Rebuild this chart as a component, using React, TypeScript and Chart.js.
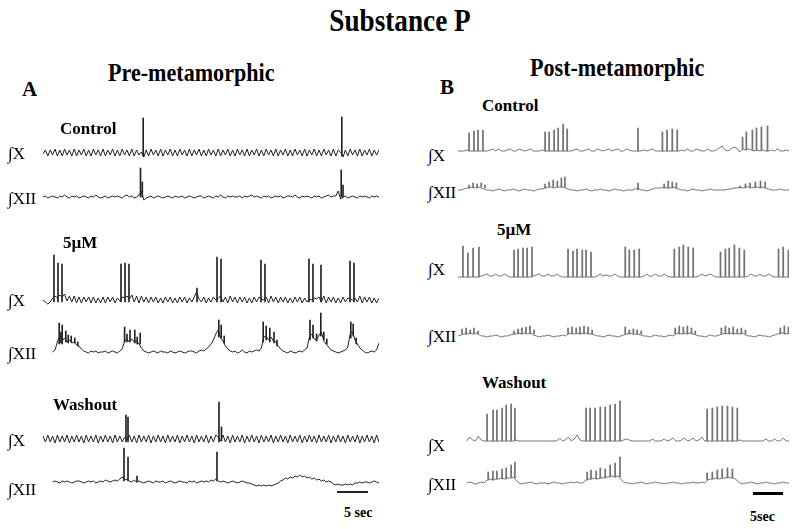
import React, { useEffect, useRef } from "react";
import { Chart, registerables } from "chart.js";

Chart.register(...registerables);

// ---------- DATA (time in seconds, amplitude in arbitrary units above baseline) ----------
const LEFT_STEP = 0.4; // s between baseline samples, panel A
const RIGHT_STEP = 0.5; // s between baseline samples, panel B
const LEFT_DURATION = 56;
const RIGHT_DURATION = 57;

// Panel A (pre-metamorphic)
const preControlX: (number | null)[] = [
  -1, 3, -3, 3, -2, 4, -3, 3, -3, 4,
  -2, 3, -3, 4, -3, 3, -2, 4, -3, 3,
  -3, 4, -2, 3, -3, 4, -3, 3, -2, 4,
  -3, 3, -3, 4, -2, 3, -3, 4, -3, 3,
  -2, 1, -4, 3, -3, 4, -2, 3, -3, 4,
  -3, 3, -2, 4, -3, 3, -3, 4, -2, 3,
  -3, 4, -3, 3, -2, 4, -3, 3, -3, 4,
  -2, 3, -3, 4, -3, 3, -2, 4, -3, 3,
  -3, 4, -2, 3, -3, 4, -3, 3, -2, 4,
  -3, 3, -3, 4, -2, 3, -3, 4, -3, 3,
  -2, 4, -3, 3, -3, 4, -2, 3, -3, 4,
  -3, 3, -2, 4, -3, 3, -3, 4, -2, 3,
  -3, 4, -3, 3, 1, -4, 3, -3, 4, -2,
  3, -3, 4, -3, 3, -2, 4, -3, 3, -2,
  3,
];
const preControlXSpikes = [[16.7, -3, 35], [49.8, -3, 36]];

const preControlXII: (number | null)[] = [
  0, 1, -1, 0, 1, 0, -1, 1, 0, 2,
  0, -1, 1, 0, 1, -1, 0, 1, 0, -1,
  1, 0, 2, 0, -1, 0, 1, -1, 0, 1,
  0, 1, 0, -1, 1, 2, 0, 1, -1, 0,
  2, 6, -3, -1, 0, 1, -1, 0, 1, 0,
  -1, 0, 1, 0, -1, 1, 0, 0, 1, -1,
  0, 1, 0, -1, 0, 1, 1, -1, 0, 1,
  0, -1, 1, 0, 2, 0, -1, 1, 0, 1,
  0, 0, 1, -1, 1, 0, 1, 2, 0, 1,
  0, -1, 1, 0, 1, -1, 0, 1, 0, 1,
  -1, 0, 1, 1, 0, 2, 0, -1, 1, 0,
  1, 0, -1, 1, 0, 1, -1, 0, 1, 2,
  0, 1, 1, 6, -2, 0, 1, -1, 0, 1,
  0, -1, 1, 0, 1, 0, -1, 1, 0, 1,
  0,
];
const preControlXIISpikes = [[16.25, 0, 29], [16.55, 0, 15], [49.7, 0, 27], [50.0, 0, 12]];

const pre5uMX: (number | null)[] = [
  0, -2, -4, -2, 2, 4, 2, 5, 3, 6,
  -1, 4, -2, 4, -3, 3, -3, 3, -2, 3,
  -3, 3, -3, 2, -3, 3, -3, 3, -2, 3,
  -3, 2, -1, 3, 2, 4, 1, 5, -2, 4,
  -3, 4, -2, 3, -3, 3, -2, 3, -3, 2,
  -3, 3, -2, 3, -3, 2, -3, 3, -2, 3,
  -3, 2, -2, 3, 8, 1, -2, 3, -3, 2,
  -2, 3, 0, 2, 4, -2, 3, -3, 4, -2,
  3, -3, 3, -2, 3, -3, 2, -3, 3, -2,
  3, 1, 0, 3, -3, 4, -2, 3, -3, 3,
  -2, 3, -3, 2, -3, 3, -2, 3, -3, 2,
  -2, 1, 0, 2, 1, 3, -2, 4, -3, 3,
  -2, 3, -3, 2, -3, 3, -2, 2, 1, 0,
  2, -2, 4, -3, 3, -2, 3, -3, 2, -3,
  2,
];
const pre5uMXSpikes = [
  [1.83, -2, 45], [2.5, -2, 37], [3.17, -2, 36],
  [13.0, -2, 36], [13.67, -2, 37], [14.33, -2, 36],
  [25.67, -2, 12],
  [29.0, -2, 43], [29.67, -2, 41],
  [36.33, -2, 40], [37.0, -2, 36],
  [44.33, -2, 41], [45.0, -2, 36], [46.33, -2, 35],
  [51.17, -2, 39], [51.83, -2, 37],
];

const pre5uMXII: (number | null)[] = [
  null, null, null, null,
  0, 2, 10, 16, 11, 14, 10, 12, 9, 10, 7, 6, 3, 1,
  0, -1, 1, 0, 1, -1, 0, 0, 1, -1, 0, 1, 0, -1, 1,
  3, 11, 13, 10, 13, 10, 11, 8, 4, 1,
  0, -1, 0, 1, 0, -1, 1, 0, 0, -1, 1, 0, -1, 0, 1, 0, -1, 0, 1, 1, 0, -1, 1, 2, 1,
  3, 5, 8, 12, 18, 22, 14, 11, 6, 3, 1,
  0, 1, -1, 0, 2, 0, -1, 1, 0, 1, 2, 1,
  4, 15, 16, 12, 15, 11, 10, 6, 3, 1,
  0, -1, 1, 0, -1, 0, 1, 0, 2,
  4, 15, 18, 13, 12, 17, 20, 11, 8, 5, 2, 1,
  0, -1, 0, 1, 2,
  5, 18, 20, 12, 8, 4, 2,
  0, -1, 0, 1, 0,
  2, 9,
];
const pre5uMXIISpikes = [
  [2.7, 8, 29], [3.0, 9, 20], [3.2, 8, 27], [3.8, 10, 21], [4.2, 9, 17], [4.7, 10, 16], [5.3, 9, 14], [5.8, 6, 10],
  [13.6, 10, 25], [14.0, 10, 18], [14.5, 10, 22], [15.3, 9, 22], [15.7, 8, 15], [16.2, 8, 19],
  [29.3, 15, 32], [29.7, 14, 27], [30.2, 9, 16],
  [36.7, 10, 30], [37.2, 12, 26], [37.8, 10, 24], [38.5, 9, 20], [39.0, 6, 12],
  [44.5, 12, 32], [45.0, 14, 27], [45.6, 11, 18], [46.3, 16, 39], [46.8, 12, 20], [47.3, 8, 13],
  [51.3, 14, 30], [51.7, 16, 28], [52.2, 8, 14],
];

const preWashX: (number | null)[] = [
  3, -3, 4, -3, 3, -4, 4, -3, 3, -3,
  4, -4, 3, -3, 4, -3, 3, -4, 4, -3,
  3, -3, 4, -4, 3, -3, 4, -3, 3, -4,
  4, -3, 3, -3, 2, -1, 4, -3, 3, -4,
  4, -3, 3, -3, 4, -4, 3, -3, 4, -3,
  3, -4, 4, -3, 3, -3, 4, -4, 3, -3,
  4, -3, 3, -4, 4, -3, 3, -3, 4, -4,
  3, -3, 4, 2, -2, 4, -3, 3, -4, 4,
  -3, 3, -3, 4, -4, 3, -3, 4, -3, 3,
  -4, 4, -3, 3, -3, 4, -4, 3, -3, 4,
  -3, 3, -4, 4, -3, 3, -3, 4, -4, 3,
  -3, 4, -3, 3, -4, 4, -3, 3, -3, 4,
  -4, 3, -3, 4, -3, 3, -4, 4, -3, 3,
  -3, 4, -4, 3, -3, 4, -3, 3, -4, 4,
  -3,
];
const preWashXSpikes = [[13.83, -3, 24], [14.17, -3, 22], [29.33, -3, 37], [29.75, -2, 12]];

const preWashXII: (number | null)[] = [
  null, null, null, null,
  0, 1, 0, -1, 1, 0, 1, 0, -1, 0, 1, 1, 0, -1, 0, 1, 0, 1, -1, 0, 1, 0, 2, 1, 0, 1,
  2, 1, 3, 5, 2, 3, 1, 0, 2, 0,
  1, 0, -1, 0, 1, 0, -1, 1, 0, 0, 1, -1, 0, 1, 0, -1, 0, 1, 0, 0, -1, 1, 0, 1, -1, 0, 1, 0, 1, 0, 2, 1,
  3, 1,
  0, 1, 0, -1, 0, 1, 0, -1, 0, 1, 0, -1, -1,
  -2, -3, -4, -3, -4, -3, -4, -3, -4, -3, -2,
  -1, 1, 2, 4, 3, 5, 4, 6, 5, 7, 5, 6, 4, 5, 3,
  4, 2, 3, 1, 2, 0, 1, 0,
  -2, -3, -2, -3, -3, -2, -3, -2, -3, -1,
  -1, 0, -1, 0, 0, -1, 0, 1, 0, -1,
];
const preWashXIISpikes = [[13.5, 1, 34], [14.17, 1, 25], [15.67, 0, 6], [29.0, 1, 30]];

// Panel B (post-metamorphic)
const postControlX: (number | null)[] = [
  0, 0, 0, 1, 0, 0, 0, 0, 0, 0,
  0, 1, 2, 0, 2, 0, 0, 1, 2, 0,
  0, 2, 1, 0, 1, 2, 0, 0, 0, 1,
  0, 0, 0, 0, 0, 0, 0, 0, 0, 0,
  1, 2, 0, 0, 1, 2, 0, 0, 2, 1,
  0, 1, 2, 0, 1, 2, 0, 0, 2, 1,
  0, 0, 0, 0, 1, 0, 1, 2, 0, 0,
  0, 0, 0, 0, 0, 0, 0, 1, 0, 2,
  0, 0, 2, 1, 0, 0, 2, 0, 0, 1,
  3, 5, 1, 0, 2, 4, 3, -1, 2, 1,
  2, 1, 0, 1, 0, 1, 0, 0, 1, 0,
  2, 0, 0, 1, 0,
];
const postControlXSpikes = [
  [1.9, 0, 18], [2.75, 0, 20], [3.45, 0, 21], [4.3, 0, 21],
  [15.0, 0, 19], [15.7, 0, 19], [16.55, 0, 21], [17.25, 0, 23], [18.1, 0, 27], [18.8, 0, 22],
  [31.0, 0, 23],
  [35.2, 0, 19], [36.0, 0, 21], [36.9, 0, 22], [37.75, 0, 21],
  [49.0, 2, 14], [49.65, 1, 19], [50.7, 1, 21], [51.4, 1, 23], [52.25, 1, 24], [53.3, 0, 25],
];

const postControlXII: (number | null)[] = [
  0, 0, 1, 2, 2, 3, 2, 3, 2, 1,
  0, 0, -1, 0, 1, 0, -1, 0, 0, 1,
  0, -1, 0, 1, 0, 0, -1, 0, 1, 1,
  2, 3, 3, 2, 3, 3, 3, 2, 1, 0,
  0, -1, 0, 0, 1, 0, -1, 0, 0, 1,
  0, 0, -1, 0, 1, 0, 0, -1, 0, 0,
  0, 1, 2, 0, 0, -1, 0, 1, 2, 2,
  2, 3, 2, 2, 3, 2, 1, 0, 0, -1,
  0, 1, 0, 0, -1, 0, 0, 1, 0, 0,
  0, 0, 0, 1, 1, 2, 2, 3, 2, 3,
  3, 2, 3, 3, 2, 3, 2, 1, 0, 0,
  0, 1, 0, 0, 0,
];
const postControlXIISpikes = [
  [1.9, 2, 5], [2.6, 2, 7], [3.3, 2, 6], [4.0, 3, 7], [4.65, 2, 5],
  [15.0, 2, 6], [15.7, 3, 8], [16.4, 3, 10], [17.1, 3, 9], [17.8, 3, 12], [18.4, 3, 13],
  [31.0, 0, 7],
  [35.5, 2, 6], [36.2, 2, 9], [36.9, 2, 8], [37.6, 2, 7],
  [48.6, 2, 4], [49.5, 2, 6], [50.3, 2, 7], [51.2, 2, 8], [52.1, 2, 9], [52.9, 2, 8],
];

const post5uMX: (number | null)[] = [
  0, 0, 0, 0, 0, 0, 0, 0, 1, 2,
  3, 1, 1, 3, 1, 1, 3, 1, 0, 0,
  0, 0, 0, 0, 0, 0, 1, 2, 3, 1,
  1, 3, 1, 1, 3, 1, 0, 0, 0, 0,
  0, 0, 0, 0, 0, 0, 0, 0, 1, 3,
  1, 2, 1, 1, 3, 1, 0, 0, 0, 0,
  0, 0, 0, 0, 1, 3, 1, 1, 3, 1,
  1, 3, 1, 0, 0, 0, 0, 0, 0, 0,
  0, 0, 0, 1, 3, 1, 2, 3, 1, 0,
  0, 0, 0, 0, 0, 0, 0, 0, 0, 0,
  1, 3, 1, 1, 3, 1, 1, 3, 1, 0,
  0, 0, 0, 0, 0,
];
const post5uMXSpikes = [
  [0.85, 0, 31], [1.7, 0, 24], [2.6, 0, 29], [3.6, 0, 30],
  [9.65, 0, 27], [10.35, 0, 28], [11.2, 0, 29], [11.9, 0, 29], [12.75, 0, 30],
  [18.95, 0, 28], [19.8, 0, 26], [20.5, 0, 28], [21.4, 0, 27], [22.05, 0, 27], [22.9, 0, 25],
  [28.8, 0, 30], [29.5, 0, 27], [30.35, 0, 27], [31.2, 0, 28],
  [37.25, 0, 28], [38.1, 0, 30], [38.8, 0, 32], [39.65, 0, 30], [40.5, 0, 29],
  [45.2, 0, 25], [46.05, 0, 28], [46.7, 0, 29], [47.6, 0, 32], [48.45, 0, 29], [49.3, 0, 27],
  [55.2, 0, 28], [56.0, 0, 30], [56.9, 0, 27],
];

const post5uMXII: (number | null)[] = [
  0, 1, 2, 2, 3, 2, 3, 2, 0, 0,
  -1, 0, 0, 1, 0, -1, 0, 0, 1, 2,
  2, 3, 2, 3, 2, 3, 1, 0, -1, 0,
  0, 1, 0, -1, 0, 0, 1, 0, 2, 3,
  2, 3, 2, 3, 3, 2, 2, 1, 0, 0,
  -1, 0, 1, 0, 0, -1, 0, 1, 2, 3,
  2, 2, 2, 1, 0, 0, -1, 0, 1, 0,
  0, -1, 0, 1, 0, 2, 3, 2, 3, 2,
  3, 2, 1, 0, 0, -1, 0, 1, 0, 0,
  1, 2, 3, 2, 3, 2, 3, 2, 3, 1,
  0, 0, -1, 0, 1, 0, 0, -1, 0, 1,
  2, 3, 3, 2, 3,
];
const post5uMXIISpikes = [
  [0.7, 2, 7], [1.4, 2, 8], [2.1, 2, 6], [2.75, 2, 8], [3.45, 2, 5],
  [9.65, 2, 5], [10.35, 2, 7], [11.0, 2, 8], [11.7, 2, 9], [12.4, 2, 10], [13.1, 2, 6],
  [18.95, 2, 8], [19.65, 2, 9], [20.35, 2, 8], [21.0, 2, 9], [21.7, 2, 10], [22.4, 2, 9], [23.1, 2, 6],
  [28.8, 2, 9], [29.5, 2, 6], [30.2, 2, 7], [30.85, 2, 6], [31.55, 2, 5],
  [37.4, 2, 8], [38.1, 2, 10], [38.8, 2, 9], [39.5, 2, 10], [40.2, 2, 8], [40.85, 2, 5],
  [45.35, 2, 8], [46.05, 2, 10], [46.7, 2, 8], [47.4, 2, 9], [48.1, 2, 7], [48.8, 2, 8], [49.5, 2, 6],
  [55.5, 2, 8], [56.2, 2, 10], [56.9, 2, 9],
];

const postWashX: (number | null)[] = [
  null, null, null, 0, 4, 1, 0, 5, 1, 0,
  0, 0, 0, 0, 0, 0, 0, 0, 0, 0,
  1, 0, 0, 0, 0, 0, 0, 0, 0, 0,
  0, 0, 0, 0, 0, 3, 0, 1, 4, 0,
  2, 6, 1, 0, 0, 0, 0, 0, 0, 0,
  0, 0, 0, 0, 0, 0, 0, 1, 2, 1,
  0, 0, 0, 0, 0, 0, 0, 2, 0, 0,
  0, 2, 0, 1, 3, 0, 0, 1, 3, 0,
  1, 3, 0, 1, 4, 0, 0, 0, 0, 0,
  0, 0, 0, 0, 0, 0, 0, 1, 0, 0,
  0, 0, 0, 0, 0, 0, 2, 0, 0, 2,
  0, 0, 3, 0, 0,
];
const postWashXSpikes = [
  [5.0, 0, 27], [6.05, 0, 31], [6.7, 0, 31], [7.6, 0, 33], [8.3, 0, 36], [9.15, 0, 37], [9.8, 0, 33],
  [22.05, 0, 33], [22.75, 0, 33], [23.6, 0, 33], [24.5, 0, 34], [25.35, 0, 34], [26.2, 0, 36], [27.05, 0, 37], [27.9, 0, 40],
  [42.9, 0, 32], [43.8, 0, 33], [44.65, 0, 34], [45.5, 0, 35], [46.4, 0, 35], [47.25, 0, 34], [48.1, 0, 33],
];

const postWashXII: (number | null)[] = [
  null, null, null, 0, 1, 0, -1, 0, 1, 0,
  3, 4, 3, 4, 4, 5, 4, 5, 5, 6,
  3, 0, -1, 0, 0, 1, 0, -1, 0, 0,
  0, -1, 0, 1, 0, 0, -1, 0, 0, 1,
  0, 1, 0, 0, 3, 4, 4, 5, 4, 5,
  5, 6, 6, 7, 6, 7, 4, 1, 0, 0,
  -1, 0, 0, 1, 0, -1, 0, 0, 1, 0,
  0, -1, 0, 0, 1, 0, 0, -1, 0, 0,
  0, 1, 0, 0, 1, 0, 3, 4, 4, 5,
  4, 5, 5, 6, 5, 5, 3, 0, -1, 0,
  0, 1, 0, -1, 0, 0, 1, 0, 0, -1,
  0, 0, 1, 0, 0,
];
const postWashXIISpikes = [
  [5.2, 3, 11], [6.0, 3, 12], [6.7, 4, 12], [7.6, 4, 14], [8.3, 4, 15], [9.15, 5, 18], [9.8, 5, 21],
  [22.25, 3, 11], [22.9, 4, 13], [23.8, 4, 12], [24.5, 5, 15], [25.35, 5, 14], [26.2, 6, 18], [27.05, 6, 20], [27.9, 6, 26],
  [42.9, 3, 10], [43.8, 4, 11], [44.65, 4, 13], [45.5, 5, 14], [46.4, 5, 15], [47.25, 5, 14],
];

// ---------- LAYOUT ----------
const SERIF = '"Liberation Serif", "Times New Roman", serif';
const LEFT_COLOR = "#222222";
const RIGHT_COLOR = "#747474";

type Trace = {
  base: (number | null)[];
  spikes: number[][];
  step: number;
  dur: number;
  left: number;
  width: number;
  baseY: number;
  up: number;
  down: number;
  color: string;
  bar: number;
};

const L = { left: 43, width: 336, step: LEFT_STEP, dur: LEFT_DURATION, color: LEFT_COLOR, bar: 1 };
const R = { left: 458, width: 331, step: RIGHT_STEP, dur: RIGHT_DURATION, color: RIGHT_COLOR, bar: 1.1 };

const traces: Trace[] = [
  { ...L, base: preControlX, spikes: preControlXSpikes, baseY: 153, up: 42, down: 8 },
  { ...L, base: preControlXII, spikes: preControlXIISpikes, baseY: 197, up: 34, down: 8 },
  { ...L, base: pre5uMX, spikes: pre5uMXSpikes, baseY: 300, up: 50, down: 8 },
  { ...L, base: pre5uMXII, spikes: pre5uMXIISpikes, baseY: 352, up: 44, down: 8 },
  { ...L, base: preWashX, spikes: preWashXSpikes, baseY: 439, up: 42, down: 8 },
  { ...L, base: preWashXII, spikes: preWashXIISpikes, baseY: 482, up: 38, down: 8 },
  { ...R, base: postControlX, spikes: postControlXSpikes, baseY: 151, up: 32, down: 6 },
  { ...R, base: postControlXII, spikes: postControlXIISpikes, baseY: 190, up: 18, down: 6 },
  { ...R, base: post5uMX, spikes: post5uMXSpikes, baseY: 277, up: 38, down: 6 },
  { ...R, base: post5uMXII, spikes: post5uMXIISpikes, baseY: 336, up: 16, down: 6 },
  { ...R, base: postWashX, spikes: postWashXSpikes, baseY: 441, up: 46, down: 6 },
  { ...R, base: postWashXII, spikes: postWashXIISpikes, baseY: 483, up: 30, down: 6 },
];

type Label = { text: string; x: number; y: number; size: number; bold?: boolean; sx?: number; center?: boolean };

const labels: Label[] = [
  { text: "Substance P", x: 400, y: 20, size: 32, bold: true, sx: 0.85, center: true },
  { text: "Pre-metamorphic", x: 108, y: 73, size: 26, bold: true, sx: 0.85 },
  { text: "Post-metamorphic", x: 530, y: 68, size: 26, bold: true, sx: 0.85 },
  { text: "A", x: 22, y: 89, size: 21, bold: true },
  { text: "B", x: 440, y: 87, size: 21, bold: true },
  { text: "Control", x: 60, y: 128, size: 17, bold: true },
  { text: "5µM", x: 63, y: 242, size: 17, bold: true },
  { text: "Washout", x: 53, y: 404, size: 17, bold: true },
  { text: "Control", x: 482, y: 105, size: 17, bold: true },
  { text: "5µM", x: 497, y: 229, size: 17, bold: true },
  { text: "Washout", x: 482, y: 382, size: 17, bold: true },
  { text: "∫X", x: 8, y: 153, size: 17 },
  { text: "∫XII", x: 8, y: 198, size: 17 },
  { text: "∫X", x: 8, y: 300, size: 17 },
  { text: "∫XII", x: 8, y: 353, size: 17 },
  { text: "∫X", x: 8, y: 440, size: 17 },
  { text: "∫XII", x: 8, y: 489, size: 17 },
  { text: "∫X", x: 428, y: 155, size: 17 },
  { text: "∫XII", x: 428, y: 192, size: 17 },
  { text: "∫X", x: 428, y: 269, size: 17 },
  { text: "∫XII", x: 428, y: 336, size: 17 },
  { text: "∫X", x: 428, y: 445, size: 17 },
  { text: "∫XII", x: 428, y: 484, size: 17 },
  { text: "5 sec", x: 344, y: 513, size: 14, bold: true },
  { text: "5sec", x: 750, y: 517, size: 14, bold: true },
];

function TraceChart({ tr }: { tr: Trace }) {
  const ref = useRef<HTMLCanvasElement>(null);
  useEffect(() => {
    const canvas = ref.current;
    if (!canvas) return;
    const chart = new Chart(canvas, {
      type: "line",
      data: {
        datasets: [
          {
            type: "line",
            data: tr.base.map((v, i) => ({ x: i * tr.step, y: v })) as any,
            borderColor: tr.color,
            borderWidth: 1,
            pointRadius: 0,
            tension: 0,
            spanGaps: false,
          },
          {
            type: "bar",
            data: tr.spikes.map(([t, lo, hi]) => ({ x: t, y: [lo, hi] })) as any,
            backgroundColor: tr.color,
            borderWidth: 0,
            barThickness: tr.bar,
            grouped: false,
          } as any,
        ],
      },
      options: {
        responsive: false,
        animation: false,
        events: [],
        layout: { padding: 0 },
        plugins: { legend: { display: false }, tooltip: { enabled: false }, title: { display: false } },
        scales: {
          x: { type: "linear", min: 0, max: tr.dur, display: false, offset: false },
          y: { type: "linear", min: -tr.down, max: tr.up, display: false },
        },
      },
    });
    return () => chart.destroy();
  }, [tr]);
  return (
    <canvas
      ref={ref}
      width={tr.width}
      height={tr.up + tr.down}
      style={{ position: "absolute", left: tr.left, top: tr.baseY - tr.up, width: tr.width, height: tr.up + tr.down }}
    />
  );
}

export default function App() {
  return (
    <div
      style={{
        position: "absolute",
        left: 0,
        top: 0,
        width: 800,
        height: 529,
        background: "#fff",
        overflow: "hidden",
        fontFamily: SERIF,
        color: "#000",
      }}
    >
      {traces.map((tr, i) => (
        <TraceChart key={i} tr={tr} />
      ))}
      {labels.map((lb, i) => (
        <div
          key={"l" + i}
          style={{
            position: "absolute",
            left: lb.x,
            top: lb.y,
            fontSize: lb.size,
            fontWeight: lb.bold ? 700 : 400,
            lineHeight: 1,
            whiteSpace: "nowrap",
            transformOrigin: lb.center ? "center center" : "left center",
            transform: `translate(${lb.center ? "-50%" : "0"}, -50%) scaleX(${lb.sx ?? 1})`,
          }}
        >
          {lb.text}
        </div>
      ))}
      <div style={{ position: "absolute", left: 337, top: 491, width: 31, height: 2, background: "#222" }} />
      <div style={{ position: "absolute", left: 753, top: 492, width: 30, height: 3, background: "#000" }} />
    </div>
  );
}
